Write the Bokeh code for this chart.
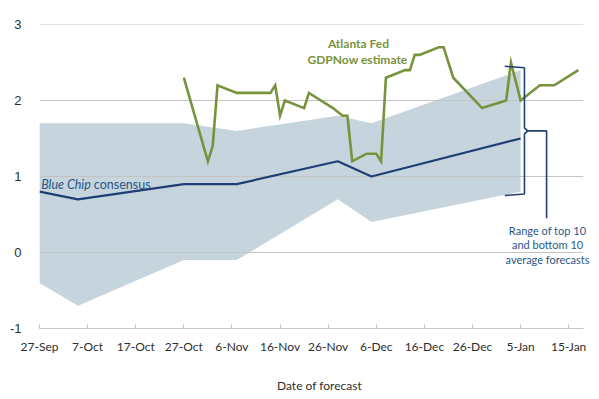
import pandas as pd
from bokeh.plotting import figure
from bokeh.models import Label, FixedTicker, Range1d
from bokeh.embed import file_html
from bokeh.resources import INLINE

# ---------------- data ----------------
start_date = "2015-09-27"

tick_dates = ["2015-09-27", "2015-10-07", "2015-10-17", "2015-10-27", "2015-11-06",
              "2015-11-16", "2015-11-26", "2015-12-06", "2015-12-16", "2015-12-26",
              "2016-01-05", "2016-01-15"]
tick_labels = ["27-Sep", "7-Oct", "17-Oct", "27-Oct", "6-Nov", "16-Nov", "26-Nov",
               "6-Dec", "16-Dec", "26-Dec", "5-Jan", "15-Jan"]
y_ticks = [-1, 0, 1, 2, 3]
y_tick_labels = ["-1", "0", "1", "2", "3"]

bc_dates = ["2015-09-27", "2015-10-05", "2015-10-27", "2015-11-07", "2015-11-28",
            "2015-12-05", "2016-01-05"]
bc_consensus = [0.8, 0.7, 0.9, 0.9, 1.2, 1.0, 1.5]
band_top10 = [1.7, 1.7, 1.7, 1.6, 1.8, 1.7, 2.4]
band_bottom10 = [-0.4, -0.7, -0.1, -0.1, 0.7, 0.4, 0.8]

gdpnow_dates = ["2015-10-27", "2015-11-01", "2015-11-02", "2015-11-03", "2015-11-07",
                "2015-11-14", "2015-11-15", "2015-11-16", "2015-11-17", "2015-11-21",
                "2015-11-22", "2015-11-27", "2015-11-29", "2015-11-30", "2015-12-01",
                "2015-12-04", "2015-12-06", "2015-12-07", "2015-12-08", "2015-12-12",
                "2015-12-13", "2015-12-14", "2015-12-15", "2015-12-19", "2015-12-20",
                "2015-12-22", "2015-12-28", "2016-01-02", "2016-01-03", "2016-01-05",
                "2016-01-09", "2016-01-12", "2016-01-17"]
gdpnow_values = [2.3, 1.2, 1.4, 2.2, 2.1,
                 2.1, 2.2, 1.8, 2.0, 1.9,
                 2.1, 1.9, 1.8, 1.8, 1.2,
                 1.3, 1.3, 1.2, 2.3, 2.4,
                 2.4, 2.6, 2.6, 2.7, 2.7,
                 2.3, 1.9, 2.0, 2.5, 2.0,
                 2.2, 2.2, 2.4]

# ---------------- helpers ----------------
t0 = pd.Timestamp(start_date)


def days(dates):
    return [float((pd.Timestamp(d) - t0).days) for d in dates]


tick_x = days(tick_dates)
bc_x = days(bc_dates)
gd_x = days(gdpnow_dates)

X_END = 113.0      # end of the drawn axis / gridlines
X_VIEW = 116.4     # visible range (room for the right-hand note)

NAVY = "#1F3F73"
NAVY_TXT = "#2B5786"
GREEN = "#77933C"
BAND = "#C6D4DE"
GRID = "#C4C4C4"
FONT = "Lato"

p = figure(width=599, height=399, output_backend="svg", toolbar_location=None,
           x_range=Range1d(0, X_VIEW), y_range=Range1d(-1, 3),
           min_border_left=39, min_border_right=0, min_border_top=24,
           min_border_bottom=71)
p.outline_line_color = None
p.background_fill_color = "white"
p.border_fill_color = "white"

# horizontal gridlines (ending where the axis ends)
grid = p.segment(x0=[0.0] * len(y_ticks), x1=[X_END] * len(y_ticks), y0=y_ticks,
                 y1=y_ticks, line_color=GRID, line_width=1)
grid.level = "underlay"

# band
band = p.varea(x=bc_x, y1=band_bottom10, y2=band_top10, fill_color=BAND)
band.level = "image"

# lines
p.line(bc_x, bc_consensus, line_color=NAVY, line_width=2.2)
p.line(gd_x, gdpnow_values, line_color=GREEN, line_width=2.6, line_join="miter")

# bracket around the final band range
bx = bc_x[-1]
top = band_top10[-1] + 0.05
bot = band_bottom10[-1] - 0.05
mid = (top + bot) / 2
bracket_xs = [[bx - 3.3, bx + 0.8, bx + 0.8, bx + 1.5, bx + 0.8, bx + 0.8, bx - 3.3],
              [bx + 1.5, bx + 5.4, bx + 5.4]]
bracket_ys = [[top, top - 0.02, mid + 0.04, mid, mid - 0.04, bot + 0.02, bot],
              [mid, mid, 0.45]]
p.multi_line(bracket_xs, bracket_ys, line_color=NAVY, line_width=1.6)

# axes
xa = p.xaxis[0]
xa.ticker = FixedTicker(ticks=tick_x)
xa.bounds = (0, X_END)
xa.major_label_overrides = {x: lab for x, lab in zip(tick_x, tick_labels)}
xa.axis_line_color = GRID
xa.major_tick_line_color = GRID
xa.major_tick_in = 4
xa.major_tick_out = 0
xa.minor_tick_line_color = None
xa.major_label_text_font = FONT
xa.major_label_text_font_size = "12px"
xa.major_label_text_color = "#2E2E2E"
xa.major_label_standoff = 10
xa.axis_label = "Date of forecast"
xa.axis_label_text_font = FONT
xa.axis_label_text_font_size = "12px"
xa.axis_label_text_font_style = "normal"
xa.axis_label_text_color = "#2E2E2E"
xa.axis_label_standoff = 21

ya = p.yaxis[0]
ya.ticker = FixedTicker(ticks=y_ticks)
ya.major_label_overrides = {t: lab for t, lab in zip(y_ticks, y_tick_labels)}
ya.axis_line_color = None
ya.major_tick_line_color = None
ya.minor_tick_line_color = None
ya.major_label_text_font = "Liberation Sans"
ya.major_label_text_font_size = "13px"
ya.major_label_text_color = "#2E2E2E"
ya.major_label_standoff = 12

p.xgrid.grid_line_color = None
p.ygrid.grid_line_color = None

# annotations
p.add_layout(Label(x=66.3, y=2.75, text="Atlanta Fed", text_font=FONT,
                   text_font_size="12px", text_font_style="bold", text_color=GREEN,
                   text_align="center", text_baseline="middle"))
p.add_layout(Label(x=66.1, y=2.54, text="GDPNow estimate", text_font=FONT,
                   text_font_size="12px", text_font_style="bold", text_color=GREEN,
                   text_align="center", text_baseline="middle"))
p.add_layout(Label(x=0.35, y=0.9, text="Blue Chip", text_font=FONT,
                   text_font_size="12.5px", text_font_style="italic", text_color=NAVY_TXT,
                   text_align="left", text_baseline="middle"))
p.add_layout(Label(x=11.3, y=0.9, text="consensus", text_font=FONT,
                   text_font_size="12.5px", text_color=NAVY_TXT,
                   text_align="left", text_baseline="middle"))
for txt, yy in [("Range of top 10", 0.29), ("and bottom 10", 0.11),
                ("average forecasts", -0.09)]:
    p.add_layout(Label(x=105.6, y=yy, text=txt, text_font=FONT,
                       text_font_size="11px", text_color=NAVY_TXT,
                       text_align="center", text_baseline="middle"))

open("out.html", "w").write(file_html(p, INLINE))
